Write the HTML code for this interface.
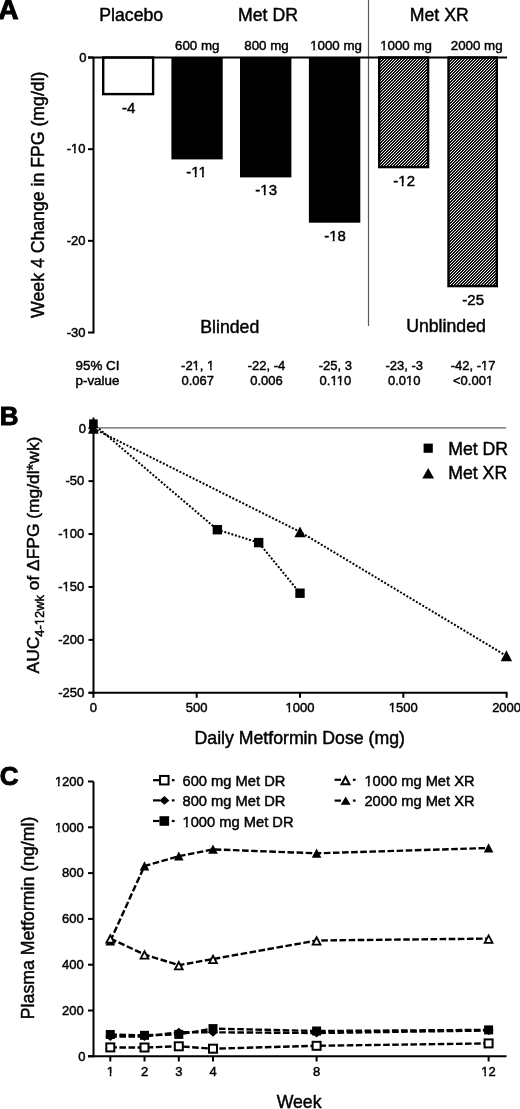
<!DOCTYPE html>
<html><head><meta charset="utf-8"><style>
html,body{margin:0;padding:0;background:#fff;}
svg{display:block;will-change:transform;}
text{font-family:"Liberation Sans", sans-serif;fill:#000;stroke:#000;stroke-width:0.45px;}
</style></head><body>
<svg width="520" height="1109" viewBox="0 0 520 1109">
<defs>
<pattern id="hatch" patternUnits="userSpaceOnUse" x="0" y="0" width="3" height="3">
<rect width="3" height="3" fill="#f0f0f0"/>
<rect x="0" y="0" width="1" height="1" fill="#000"/><rect x="1" y="2" width="1" height="1" fill="#000"/><rect x="2" y="1" width="1" height="1" fill="#000"/>
<rect x="1" y="0" width="1" height="1" fill="#222"/><rect x="0" y="1" width="1" height="1" fill="#222"/><rect x="2" y="2" width="1" height="1" fill="#222"/>
</pattern>
</defs>
<rect width="520" height="1109" fill="#fff"/>
<text x="-1.8" y="18.7" font-size="28" text-anchor="start" font-weight="bold" style="stroke-width:1.1px">A</text>
<text x="131.2" y="21" font-size="17.7" text-anchor="middle" font-weight="normal" >Placebo</text>
<text x="268" y="21" font-size="17.7" text-anchor="middle" font-weight="normal" >Met DR</text>
<text x="439.3" y="21" font-size="17.7" text-anchor="middle" font-weight="normal" >Met XR</text>
<text x="197.2" y="49.5" font-size="13.3" text-anchor="middle" font-weight="normal" >600 mg</text>
<text x="266.5" y="49.5" font-size="13.3" text-anchor="middle" font-weight="normal" >800 mg</text>
<text x="336" y="49.5" font-size="13.3" text-anchor="middle" font-weight="normal" >1000 mg</text>
<text x="406.0" y="49.5" font-size="13.3" text-anchor="middle" font-weight="normal" >1000 mg</text>
<text x="476.7" y="49.5" font-size="13.3" text-anchor="middle" font-weight="normal" >2000 mg</text>
<line x1="368.5" y1="0" x2="368.5" y2="326" stroke="#5a5a5a" stroke-width="1.2" />
<rect x="103.2" y="57.5" width="49.90" height="36.60" fill="#fff" stroke="#000" stroke-width="2.4"/>
<text x="128.65" y="113.3" font-size="15" text-anchor="middle" font-weight="normal" >-4</text>
<rect x="171.4" y="57.5" width="51.30" height="101.90" fill="#000"/>
<text x="196.55" y="177.4" font-size="15" text-anchor="middle" font-weight="normal" >-11</text>
<rect x="240.0" y="57.5" width="51.40" height="119.90" fill="#000"/>
<text x="266.2" y="195.4" font-size="15" text-anchor="middle" font-weight="normal" >-13</text>
<rect x="308.9" y="57.5" width="51.40" height="165.20" fill="#000"/>
<text x="335.1" y="240.7" font-size="15" text-anchor="middle" font-weight="normal" >-18</text>
<rect x="379.2" y="57.5" width="48.90" height="109.60" fill="url(#hatch)" stroke="#000" stroke-width="2.4"/>
<text x="404.15" y="186.3" font-size="15" text-anchor="middle" font-weight="normal" >-12</text>
<rect x="448.5" y="57.5" width="48.30" height="228.60" fill="url(#hatch)" stroke="#000" stroke-width="2.4"/>
<text x="473.15" y="305.3" font-size="15" text-anchor="middle" font-weight="normal" >-25</text>
<line x1="88" y1="57.5" x2="507" y2="57.5" stroke="#000" stroke-width="2" />
<line x1="93.5" y1="57.5" x2="93.5" y2="333.5" stroke="#000" stroke-width="2" />
<line x1="88" y1="57.5" x2="93.5" y2="57.5" stroke="#000" stroke-width="2" />
<text x="86.4" y="61.8" font-size="13" text-anchor="end" font-weight="normal" >0</text>
<line x1="88" y1="149.17000000000002" x2="93.5" y2="149.17000000000002" stroke="#000" stroke-width="2" />
<text x="85.5" y="153.47000000000003" font-size="13" text-anchor="end" font-weight="normal" >-10</text>
<line x1="88" y1="240.84" x2="93.5" y2="240.84" stroke="#000" stroke-width="2" />
<text x="85.5" y="245.14000000000001" font-size="13" text-anchor="end" font-weight="normal" >-20</text>
<line x1="88" y1="332.51" x2="93.5" y2="332.51" stroke="#000" stroke-width="2" />
<text x="85.5" y="336.81" font-size="13" text-anchor="end" font-weight="normal" >-30</text>
<text x="229.8" y="332.5" font-size="17.7" text-anchor="middle" font-weight="normal" >Blinded</text>
<text x="446" y="332.2" font-size="17.7" text-anchor="middle" font-weight="normal" >Unblinded</text>
<text x="75.5" y="370" font-size="13.4" text-anchor="start" font-weight="normal" >95% CI</text>
<text x="75.5" y="385" font-size="13.4" text-anchor="start" font-weight="normal" >p-value</text>
<text x="197.7" y="370" font-size="13" text-anchor="middle" font-weight="normal" >-21, 1</text>
<text x="197.7" y="385" font-size="13" text-anchor="middle" font-weight="normal" >0.067</text>
<text x="266.5" y="370" font-size="13" text-anchor="middle" font-weight="normal" >-22, -4</text>
<text x="266.5" y="385" font-size="13" text-anchor="middle" font-weight="normal" >0.006</text>
<text x="335.4" y="370" font-size="13" text-anchor="middle" font-weight="normal" >-25, 3</text>
<text x="335.4" y="385" font-size="13" text-anchor="middle" font-weight="normal" >0.110</text>
<text x="404.2" y="370" font-size="13" text-anchor="middle" font-weight="normal" >-23, -3</text>
<text x="404.2" y="385" font-size="13" text-anchor="middle" font-weight="normal" >0.010</text>
<text x="473.1" y="370" font-size="13" text-anchor="middle" font-weight="normal" >-42, -17</text>
<text x="473.1" y="385" font-size="13" text-anchor="middle" font-weight="normal" >&lt;0.001</text>
<text transform="translate(43.8,194.7) rotate(-90)" font-size="17.7" text-anchor="middle">Week 4 Change in FPG (mg/dl)</text>
<text x="-0.2" y="424.8" font-size="26" text-anchor="start" font-weight="bold" style="stroke-width:0.9px">B</text>
<line x1="97" y1="427.8" x2="506" y2="427.8" stroke="#606060" stroke-width="1.2" />
<line x1="93.5" y1="417.5" x2="93.5" y2="693.5" stroke="#000" stroke-width="2" />
<line x1="88.5" y1="692.8" x2="507.5" y2="692.8" stroke="#000" stroke-width="2" />
<line x1="88.5" y1="428.2" x2="93.5" y2="428.2" stroke="#000" stroke-width="2" />
<text x="85.89999999999999" y="432.5" font-size="13" text-anchor="end" font-weight="normal" >0</text>
<line x1="88.5" y1="481.12" x2="93.5" y2="481.12" stroke="#000" stroke-width="2" />
<text x="84.3" y="485.42" font-size="13" text-anchor="end" font-weight="normal" >-50</text>
<line x1="88.5" y1="534.04" x2="93.5" y2="534.04" stroke="#000" stroke-width="2" />
<text x="84.3" y="538.3399999999999" font-size="13" text-anchor="end" font-weight="normal" >-100</text>
<line x1="88.5" y1="586.9599999999999" x2="93.5" y2="586.9599999999999" stroke="#000" stroke-width="2" />
<text x="84.3" y="591.2599999999999" font-size="13" text-anchor="end" font-weight="normal" >-150</text>
<line x1="88.5" y1="639.8799999999999" x2="93.5" y2="639.8799999999999" stroke="#000" stroke-width="2" />
<text x="84.3" y="644.1799999999998" font-size="13" text-anchor="end" font-weight="normal" >-200</text>
<line x1="88.5" y1="692.8" x2="93.5" y2="692.8" stroke="#000" stroke-width="2" />
<text x="84.3" y="697.0999999999999" font-size="13" text-anchor="end" font-weight="normal" >-250</text>
<line x1="93.4" y1="692.8" x2="93.4" y2="697.8" stroke="#000" stroke-width="2" />
<text x="93.4" y="712" font-size="13" text-anchor="middle" font-weight="normal" >0</text>
<line x1="196.70000000000002" y1="692.8" x2="196.70000000000002" y2="697.8" stroke="#000" stroke-width="2" />
<text x="196.70000000000002" y="712" font-size="13" text-anchor="middle" font-weight="normal" >500</text>
<line x1="300.0" y1="692.8" x2="300.0" y2="697.8" stroke="#000" stroke-width="2" />
<text x="300.0" y="712" font-size="13" text-anchor="middle" font-weight="normal" >1000</text>
<line x1="403.30000000000007" y1="692.8" x2="403.30000000000007" y2="697.8" stroke="#000" stroke-width="2" />
<text x="403.30000000000007" y="712" font-size="13" text-anchor="middle" font-weight="normal" >1500</text>
<line x1="506.6" y1="692.8" x2="506.6" y2="697.8" stroke="#000" stroke-width="2" />
<text x="506.6" y="712" font-size="13" text-anchor="middle" font-weight="normal" >2000</text>
<text x="299.7" y="743.5" font-size="17.7" text-anchor="middle" font-weight="normal" >Daily Metformin Dose (mg)</text>
<polyline points="93.40,424.00 217.36,529.70 258.68,542.60 300.00,593.20" fill="none" stroke="#000" stroke-width="2" stroke-dasharray="2 1.7"/>
<polyline points="93.40,428.50 300.00,531.80 506.60,656.00" fill="none" stroke="#000" stroke-width="2" stroke-dasharray="2 1.7"/>
<polygon points="93.40,421.00 88.10,433.80 98.70,433.80" fill="#000"/>
<rect x="89.10" y="419.40" width="8.6" height="8.6" fill="#000"/>
<rect x="212.66" y="525.00" width="9.4" height="9.4" fill="#000"/>
<rect x="253.98" y="537.90" width="9.4" height="9.4" fill="#000"/>
<rect x="295.30" y="588.50" width="9.4" height="9.4" fill="#000"/>
<polygon points="300.00,526.60 294.40,537.20 305.60,537.20" fill="#000"/>
<polygon points="506.40,650.20 500.70,661.20 512.10,661.20" fill="#000"/>
<rect x="423.60" y="443.60" width="9.2" height="9.2" fill="#000"/>
<text x="448.2" y="454.6" font-size="17.7" text-anchor="start" font-weight="normal" >Met DR</text>
<polygon points="428.20,468.00 422.30,478.40 434.10,478.40" fill="#000"/>
<text x="448.2" y="478.8" font-size="17.7" text-anchor="start" font-weight="normal" >Met XR</text>
<text transform="translate(39.4,555) rotate(-90)" font-size="17.4" text-anchor="middle">AUC<tspan font-size="12.9" dy="4.4">4-12wk</tspan><tspan dy="-4.4"> of ΔFPG (mg/dl*wk)</tspan></text>
<text x="-0.3" y="784.8" font-size="26" text-anchor="start" font-weight="bold" style="stroke-width:0.9px">C</text>
<line x1="93.5" y1="781.5" x2="93.5" y2="1057.3" stroke="#000" stroke-width="2" />
<line x1="88" y1="1056.3" x2="506.5" y2="1056.3" stroke="#000" stroke-width="2" />
<line x1="88" y1="1056.3" x2="93.5" y2="1056.3" stroke="#000" stroke-width="2" />
<text x="85.5" y="1060.6" font-size="13" text-anchor="end" font-weight="normal" >0</text>
<line x1="88" y1="1010.5" x2="93.5" y2="1010.5" stroke="#000" stroke-width="2" />
<text x="83.8" y="1014.8" font-size="13" text-anchor="end" font-weight="normal" >200</text>
<line x1="88" y1="964.6999999999999" x2="93.5" y2="964.6999999999999" stroke="#000" stroke-width="2" />
<text x="83.8" y="968.9999999999999" font-size="13" text-anchor="end" font-weight="normal" >400</text>
<line x1="88" y1="918.9" x2="93.5" y2="918.9" stroke="#000" stroke-width="2" />
<text x="83.8" y="923.1999999999999" font-size="13" text-anchor="end" font-weight="normal" >600</text>
<line x1="88" y1="873.1" x2="93.5" y2="873.1" stroke="#000" stroke-width="2" />
<text x="83.8" y="877.4" font-size="13" text-anchor="end" font-weight="normal" >800</text>
<line x1="88" y1="827.3" x2="93.5" y2="827.3" stroke="#000" stroke-width="2" />
<text x="83.8" y="831.5999999999999" font-size="13" text-anchor="end" font-weight="normal" >1000</text>
<line x1="88" y1="781.5" x2="93.5" y2="781.5" stroke="#000" stroke-width="2" />
<text x="83.8" y="785.8" font-size="13" text-anchor="end" font-weight="normal" >1200</text>
<line x1="110.3" y1="1056.3" x2="110.3" y2="1061.5" stroke="#000" stroke-width="2" />
<text x="110.3" y="1076.3" font-size="13" text-anchor="middle" font-weight="normal" >1</text>
<line x1="144.5" y1="1056.3" x2="144.5" y2="1061.5" stroke="#000" stroke-width="2" />
<text x="144.5" y="1076.3" font-size="13" text-anchor="middle" font-weight="normal" >2</text>
<line x1="178.8" y1="1056.3" x2="178.8" y2="1061.5" stroke="#000" stroke-width="2" />
<text x="178.8" y="1076.3" font-size="13" text-anchor="middle" font-weight="normal" >3</text>
<line x1="213.0" y1="1056.3" x2="213.0" y2="1061.5" stroke="#000" stroke-width="2" />
<text x="213.0" y="1076.3" font-size="13" text-anchor="middle" font-weight="normal" >4</text>
<line x1="316.6" y1="1056.3" x2="316.6" y2="1061.5" stroke="#000" stroke-width="2" />
<text x="316.6" y="1076.3" font-size="13" text-anchor="middle" font-weight="normal" >8</text>
<line x1="488.6" y1="1056.3" x2="488.6" y2="1061.5" stroke="#000" stroke-width="2" />
<text x="488.6" y="1076.3" font-size="13" text-anchor="middle" font-weight="normal" >12</text>
<text x="299.1" y="1108.3" font-size="17.7" text-anchor="middle" font-weight="normal" >Week</text>
<text transform="translate(34.2,917.95) rotate(-90)" font-size="17.7" text-anchor="middle">Plasma Metformin (ng/ml)</text>
<polyline points="110.30,1047.40 144.50,1047.50 178.80,1046.30 213.00,1048.70 316.60,1045.80 488.60,1043.40" fill="none" stroke="#000" stroke-width="2.4" stroke-dasharray="6.6 2.5"/>
<polyline points="110.30,1036.50 144.50,1036.50 178.80,1032.30 213.00,1032.30 316.60,1033.00 488.60,1030.50" fill="none" stroke="#000" stroke-width="2.4" stroke-dasharray="6.6 2.5"/>
<polyline points="110.30,1034.50 144.50,1035.30 178.80,1034.40 213.00,1028.60 316.60,1031.00 488.60,1029.90" fill="none" stroke="#000" stroke-width="2.4" stroke-dasharray="6.6 2.5"/>
<polyline points="110.30,938.50 144.50,954.50 178.80,965.20 213.00,959.00 316.60,940.50 488.60,938.60" fill="none" stroke="#000" stroke-width="2.4" stroke-dasharray="6.6 2.5"/>
<polyline points="110.30,941.00 144.50,866.00 178.80,856.20 213.00,849.40 316.60,853.30 488.60,848.00" fill="none" stroke="#000" stroke-width="2.4" stroke-dasharray="6.6 2.5"/>
<polygon points="110.30,936.20 105.50,945.40 115.10,945.40" fill="#000"/>
<polygon points="144.50,861.20 139.70,870.40 149.30,870.40" fill="#000"/>
<polygon points="178.80,851.40 174.00,860.60 183.60,860.60" fill="#000"/>
<polygon points="213.00,844.60 208.20,853.80 217.80,853.80" fill="#000"/>
<polygon points="316.60,848.50 311.80,857.70 321.40,857.70" fill="#000"/>
<polygon points="488.60,843.20 483.80,852.40 493.40,852.40" fill="#000"/>
<polygon points="110.30,933.30 104.90,943.60 115.70,943.60" fill="#000"/>
<polygon points="110.30,937.18 107.88,941.80 112.72,941.80" fill="#fff"/>
<polygon points="144.50,949.30 139.10,959.60 149.90,959.60" fill="#000"/>
<polygon points="144.50,953.18 142.08,957.80 146.92,957.80" fill="#fff"/>
<polygon points="178.80,960.00 173.40,970.30 184.20,970.30" fill="#000"/>
<polygon points="178.80,963.88 176.38,968.50 181.22,968.50" fill="#fff"/>
<polygon points="213.00,953.80 207.60,964.10 218.40,964.10" fill="#000"/>
<polygon points="213.00,957.68 210.58,962.30 215.42,962.30" fill="#fff"/>
<polygon points="316.60,935.30 311.20,945.60 322.00,945.60" fill="#000"/>
<polygon points="316.60,939.18 314.18,943.80 319.02,943.80" fill="#fff"/>
<polygon points="488.60,933.40 483.20,943.70 494.00,943.70" fill="#000"/>
<polygon points="488.60,937.28 486.18,941.90 491.02,941.90" fill="#fff"/>
<polygon points="110.30,1032.00 115.30,1036.50 110.30,1041.00 105.30,1036.50" fill="#000"/>
<polygon points="144.50,1032.00 149.50,1036.50 144.50,1041.00 139.50,1036.50" fill="#000"/>
<polygon points="178.80,1027.80 183.80,1032.30 178.80,1036.80 173.80,1032.30" fill="#000"/>
<polygon points="213.00,1027.80 218.00,1032.30 213.00,1036.80 208.00,1032.30" fill="#000"/>
<polygon points="316.60,1028.50 321.60,1033.00 316.60,1037.50 311.60,1033.00" fill="#000"/>
<polygon points="488.60,1026.00 493.60,1030.50 488.60,1035.00 483.60,1030.50" fill="#000"/>
<rect x="105.80" y="1030.00" width="9" height="9" fill="#000"/>
<rect x="140.00" y="1030.80" width="9" height="9" fill="#000"/>
<rect x="174.30" y="1029.90" width="9" height="9" fill="#000"/>
<rect x="208.50" y="1024.10" width="9" height="9" fill="#000"/>
<rect x="312.10" y="1026.50" width="9" height="9" fill="#000"/>
<rect x="484.10" y="1025.40" width="9" height="9" fill="#000"/>
<rect x="105.30" y="1042.40" width="10" height="10" fill="#000"/>
<rect x="107.30" y="1044.40" width="6.00" height="6.00" fill="#fff"/>
<rect x="139.50" y="1042.50" width="10" height="10" fill="#000"/>
<rect x="141.50" y="1044.50" width="6.00" height="6.00" fill="#fff"/>
<rect x="173.80" y="1041.30" width="10" height="10" fill="#000"/>
<rect x="175.80" y="1043.30" width="6.00" height="6.00" fill="#fff"/>
<rect x="208.00" y="1043.70" width="10" height="10" fill="#000"/>
<rect x="210.00" y="1045.70" width="6.00" height="6.00" fill="#fff"/>
<rect x="311.60" y="1040.80" width="10" height="10" fill="#000"/>
<rect x="313.60" y="1042.80" width="6.00" height="6.00" fill="#fff"/>
<rect x="483.60" y="1038.40" width="10" height="10" fill="#000"/>
<rect x="485.60" y="1040.40" width="6.00" height="6.00" fill="#fff"/>
<line x1="153" y1="780.2" x2="159" y2="780.2" stroke="#000" stroke-width="2.2" />
<rect x="159.05" y="774.95" width="10.5" height="10.5" fill="#000"/>
<rect x="161.05" y="776.95" width="6.50" height="6.50" fill="#fff"/>
<line x1="171.8" y1="780.2" x2="174.6" y2="780.2" stroke="#000" stroke-width="2.2" />
<text x="182.5" y="785.7" font-size="14.7" text-anchor="start" font-weight="normal" >600 mg Met DR</text>
<line x1="153" y1="800.4" x2="160" y2="800.4" stroke="#000" stroke-width="2.2" />
<polygon points="164.40,796.10 169.40,800.40 164.40,804.70 159.40,800.40" fill="#000"/>
<line x1="171.8" y1="800.4" x2="174.6" y2="800.4" stroke="#000" stroke-width="2.2" />
<text x="182.5" y="805.8" font-size="14.7" text-anchor="start" font-weight="normal" >800 mg Met DR</text>
<line x1="153" y1="821" x2="159.5" y2="821" stroke="#000" stroke-width="2.2" />
<rect x="159.50" y="816.20" width="9.6" height="9.6" fill="#000"/>
<line x1="171.8" y1="821" x2="174.6" y2="821" stroke="#000" stroke-width="2.2" />
<text x="182.5" y="826.6" font-size="14.7" text-anchor="start" font-weight="normal" >1000 mg Met DR</text>
<line x1="334.6" y1="779.8" x2="341" y2="779.8" stroke="#000" stroke-width="2.2" />
<polygon points="345.50,774.80 339.90,785.20 351.10,785.20" fill="#000"/>
<polygon points="345.50,779.02 343.25,783.20 347.75,783.20" fill="#fff"/>
<line x1="352.9" y1="779.8" x2="355.6" y2="779.8" stroke="#000" stroke-width="2.2" />
<text x="364.4" y="786.0" font-size="14.7" text-anchor="start" font-weight="normal" >1000 mg Met XR</text>
<line x1="334.6" y1="800.6" x2="341" y2="800.6" stroke="#000" stroke-width="2.2" />
<polygon points="345.70,796.40 340.80,804.80 350.60,804.80" fill="#000"/>
<line x1="352.9" y1="800.6" x2="355.6" y2="800.6" stroke="#000" stroke-width="2.2" />
<text x="364.4" y="805.8" font-size="14.7" text-anchor="start" font-weight="normal" >2000 mg Met XR</text>
<g id="onefix">
<rect x="310.34" y="46.31" width="2.88" height="4.19" fill="#fff"/>
<rect x="314.89" y="46.31" width="2.88" height="4.19" fill="#fff"/>
<rect x="380.34" y="46.31" width="2.88" height="4.19" fill="#fff"/>
<rect x="384.89" y="46.31" width="2.88" height="4.19" fill="#fff"/>
<rect x="191.59" y="174.08" width="3.18" height="4.32" fill="#fff"/>
<rect x="196.59" y="174.08" width="3.16" height="4.32" fill="#fff"/>
<rect x="198.82" y="174.08" width="3.18" height="4.32" fill="#fff"/>
<rect x="203.83" y="174.08" width="3.16" height="4.32" fill="#fff"/>
<rect x="260.68" y="192.08" width="3.18" height="4.32" fill="#fff"/>
<rect x="265.69" y="192.08" width="3.16" height="4.32" fill="#fff"/>
<rect x="329.58" y="237.38" width="3.18" height="4.32" fill="#fff"/>
<rect x="334.59" y="237.38" width="3.16" height="4.32" fill="#fff"/>
<rect x="398.63" y="182.98" width="3.18" height="4.32" fill="#fff"/>
<rect x="403.64" y="182.98" width="3.16" height="4.32" fill="#fff"/>
<rect x="71.22" y="150.30" width="2.83" height="4.17" fill="#fff"/>
<rect x="75.70" y="150.30" width="2.83" height="4.17" fill="#fff"/>
<rect x="192.81" y="366.83" width="2.83" height="4.17" fill="#fff"/>
<rect x="197.29" y="366.83" width="2.83" height="4.17" fill="#fff"/>
<rect x="207.27" y="366.83" width="2.83" height="4.17" fill="#fff"/>
<rect x="211.74" y="366.83" width="2.83" height="4.17" fill="#fff"/>
<rect x="330.63" y="381.83" width="2.83" height="4.17" fill="#fff"/>
<rect x="335.11" y="381.83" width="2.83" height="4.17" fill="#fff"/>
<rect x="336.89" y="381.83" width="2.83" height="4.17" fill="#fff"/>
<rect x="341.37" y="381.83" width="2.83" height="4.17" fill="#fff"/>
<rect x="406.18" y="381.83" width="2.83" height="4.17" fill="#fff"/>
<rect x="410.66" y="381.83" width="2.83" height="4.17" fill="#fff"/>
<rect x="481.21" y="366.83" width="2.83" height="4.17" fill="#fff"/>
<rect x="485.69" y="366.83" width="2.83" height="4.17" fill="#fff"/>
<rect x="486.12" y="381.83" width="2.83" height="4.17" fill="#fff"/>
<rect x="490.60" y="381.83" width="2.83" height="4.17" fill="#fff"/>
<rect x="62.79" y="535.17" width="2.83" height="4.17" fill="#fff"/>
<rect x="67.26" y="535.17" width="2.83" height="4.17" fill="#fff"/>
<rect x="62.79" y="588.09" width="2.83" height="4.17" fill="#fff"/>
<rect x="67.26" y="588.09" width="2.83" height="4.17" fill="#fff"/>
<rect x="285.73" y="708.83" width="2.83" height="4.17" fill="#fff"/>
<rect x="290.21" y="708.83" width="2.83" height="4.17" fill="#fff"/>
<rect x="389.03" y="708.83" width="2.83" height="4.17" fill="#fff"/>
<rect x="393.51" y="708.83" width="2.83" height="4.17" fill="#fff"/>
<rect x="-70.04" y="1.24" width="2.81" height="4.16" fill="#fff" transform="translate(39.4,555) rotate(-90)"/>
<rect x="-65.58" y="1.24" width="2.81" height="4.16" fill="#fff" transform="translate(39.4,555) rotate(-90)"/>
<rect x="55.07" y="828.43" width="2.83" height="4.17" fill="#fff"/>
<rect x="59.55" y="828.43" width="2.83" height="4.17" fill="#fff"/>
<rect x="55.07" y="782.63" width="2.83" height="4.17" fill="#fff"/>
<rect x="59.55" y="782.63" width="2.83" height="4.17" fill="#fff"/>
<rect x="106.87" y="1073.13" width="2.83" height="4.17" fill="#fff"/>
<rect x="111.35" y="1073.13" width="2.83" height="4.17" fill="#fff"/>
<rect x="481.56" y="1073.13" width="2.83" height="4.17" fill="#fff"/>
<rect x="486.03" y="1073.13" width="2.83" height="4.17" fill="#fff"/>
<rect x="182.82" y="823.30" width="3.13" height="4.30" fill="#fff"/>
<rect x="187.75" y="823.30" width="3.11" height="4.30" fill="#fff"/>
<rect x="364.72" y="782.70" width="3.13" height="4.30" fill="#fff"/>
<rect x="369.65" y="782.70" width="3.11" height="4.30" fill="#fff"/>
</g>
</svg>
</body></html>
